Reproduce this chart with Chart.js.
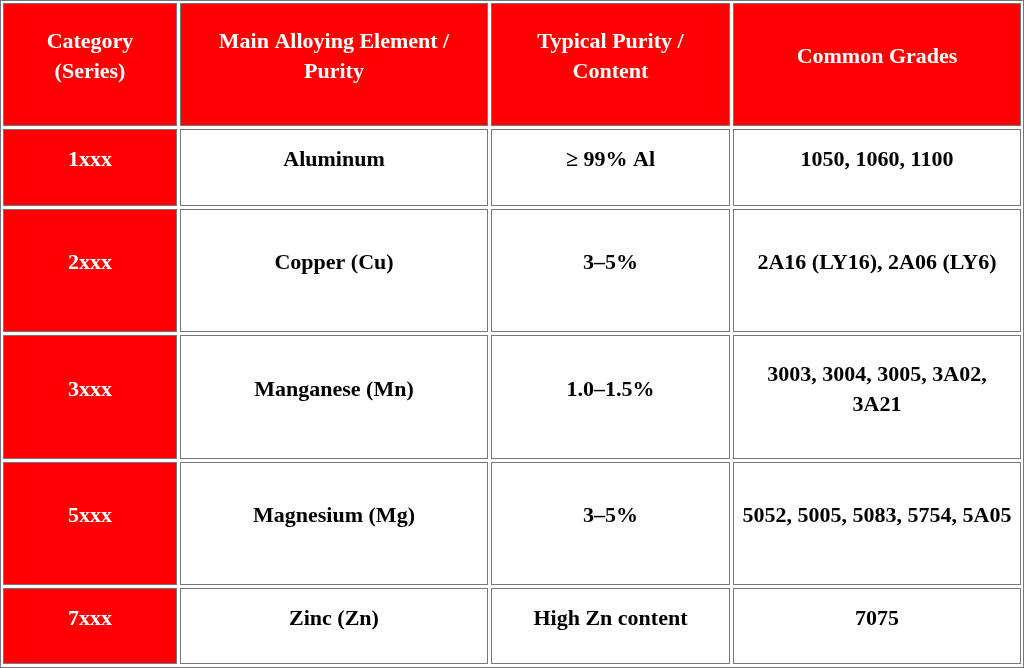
<!DOCTYPE html>
<html><head><meta charset="utf-8">
<script src="https://cdn.jsdelivr.net/npm/chart.js@4"></script>
<style>html,body{margin:0;padding:0;background:#fff}#w{width:1024px;height:668px}</style>
</head><body><div id="w"><canvas id="c"></canvas></div>
<script>
const headers = [["Category","(Series)"],["Main Alloying Element /","Purity"],["Typical Purity /","Content"],["Common Grades"]];
const categories = ["1xxx","2xxx","3xxx","5xxx","7xxx"];
const elements = ["Aluminum","Copper (Cu)","Manganese (Mn)","Magnesium (Mg)","Zinc (Zn)"];
const purity = ["≥ 99% Al","3–5%","1.0–1.5%","3–5%","High Zn content"];
const grades = [["1050, 1060, 1100"],["2A16 (LY16), 2A06 (LY6)"],["3003, 3004, 3005, 3A02,","3A21"],["5052, 5005, 5083, 5754, 5A05"],["7075"]];

const colEdges = [3,180,491,733,1024];
const rowEdges = [3,129,209,335,462,588,667];
const rows = [headers].concat(categories.map((c,i)=>[[c],[elements[i]],[purity[i]],grades[i]]));

const tablePlugin = {
  id:'table',
  afterDraw(chart){
    const ctx = chart.ctx, xs = chart.scales.x, ys = chart.scales.y;
    ctx.save();
    ctx.strokeStyle='#777'; ctx.lineWidth=1;
    ctx.strokeRect(xs.getPixelForValue(0)+0.5, ys.getPixelForValue(0)+0.5, 1023, 667);
    rows.forEach((r,ri)=>{
      r.forEach((lines,ci)=>{
        const x0=xs.getPixelForValue(colEdges[ci]), x1=xs.getPixelForValue(colEdges[ci+1]);
        const y0=ys.getPixelForValue(rowEdges[ri]), y1=ys.getPixelForValue(rowEdges[ri+1]);
        const red = ri===0||ci===0;
        const l=x0, t=y0, w=x1-x0-3, h=y1-y0-3;
        ctx.fillStyle = red?'#ff0000':'#ffffff';
        ctx.fillRect(l,t,w,h);
        ctx.strokeStyle='#777';
        ctx.strokeRect(l+0.5,t+0.5,w-1,h-1);
        ctx.fillStyle = red?'#ffffff':'#000000';
        ctx.font='bold 22px "Liberation Serif", serif';
        ctx.textAlign='center'; ctx.textBaseline='middle';
        const lh=30, cy=t+h/2 - (lines.length-1)*lh/2 - 7;
        lines.forEach((s,k)=>ctx.fillText(s,l+w/2,cy+k*lh));
      });
    });
    ctx.restore();
  }
};

new Chart(document.getElementById('c'),{
  type:'scatter',
  data:{datasets:[{data:[]}]},
  options:{responsive:true,maintainAspectRatio:false,animation:false,
    layout:{padding:0},
    plugins:{legend:{display:false},tooltip:{enabled:false}},
    scales:{x:{type:'linear',min:0,max:1024,display:false},
            y:{type:'linear',min:0,max:668,reverse:true,display:false}}},
  plugins:[tablePlugin]
});
</script></body></html>
